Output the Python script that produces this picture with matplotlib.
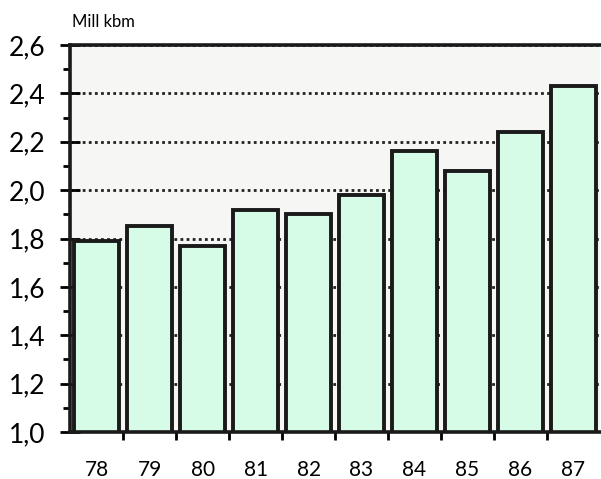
import matplotlib.pyplot as plt
from matplotlib.ticker import MultipleLocator, FuncFormatter

# Data
years = ["78", "79", "80", "81", "82", "83", "84", "85", "86", "87"]
values = [1.79, 1.85, 1.77, 1.92, 1.90, 1.98, 2.16, 2.08, 2.24, 2.43]

plt.rcParams['font.family'] = ['Lato', 'DejaVu Sans']

fig = plt.figure(figsize=(6.01, 4.79), dpi=100)
ax = fig.add_axes([0.117, 0.098, 0.881, 0.808])
ax.set_facecolor('#f6f6f4')

x = list(range(len(years)))
ax.bar(x, values, width=0.85, bottom=0, color='#d6fbe6', edgecolor='#1a1a1a',
       linewidth=2.8, zorder=3)

ax.set_ylim(1.0, 2.6)
ax.set_xlim(-0.5, 9.5)

# dotted grid lines behind the bars
ax.yaxis.set_major_locator(MultipleLocator(0.2))
ax.yaxis.set_minor_locator(MultipleLocator(0.1))
ax.grid(axis='y', which='major', linestyle=(0, (1, 1.2)), color='#222222',
        linewidth=2.0, zorder=1)
ax.yaxis.set_major_formatter(FuncFormatter(lambda v, p: f"{v:.1f}".replace('.', ',')))

# x ticks between bars, labels centred under bars
ax.set_xticks([i + 0.5 for i in range(len(years) - 1)])
ax.set_xticklabels([])
ax.set_xticks(x, minor=True)
ax.set_xticklabels(years, minor=True)
ax.tick_params(axis='x', which='minor', length=0, pad=20, labelsize=15)
ax.tick_params(axis='x', which='major', direction='out', length=6, width=2)

ax.tick_params(axis='y', which='major', direction='inout', length=14, width=2,
               labelsize=19, pad=11)
ax.tick_params(axis='y', which='minor', direction='out', length=5, width=2)

for side in ['left', 'top', 'bottom']:
    ax.spines[side].set_linewidth(2.6)
    ax.spines[side].set_color('#1a1a1a')
    ax.spines[side].set_zorder(4)
ax.spines['right'].set_visible(False)

fig.text(0.12, 0.955, "Mill kbm", fontsize=12, ha='left', va='center')

fig.savefig('out.png', dpi=100)
